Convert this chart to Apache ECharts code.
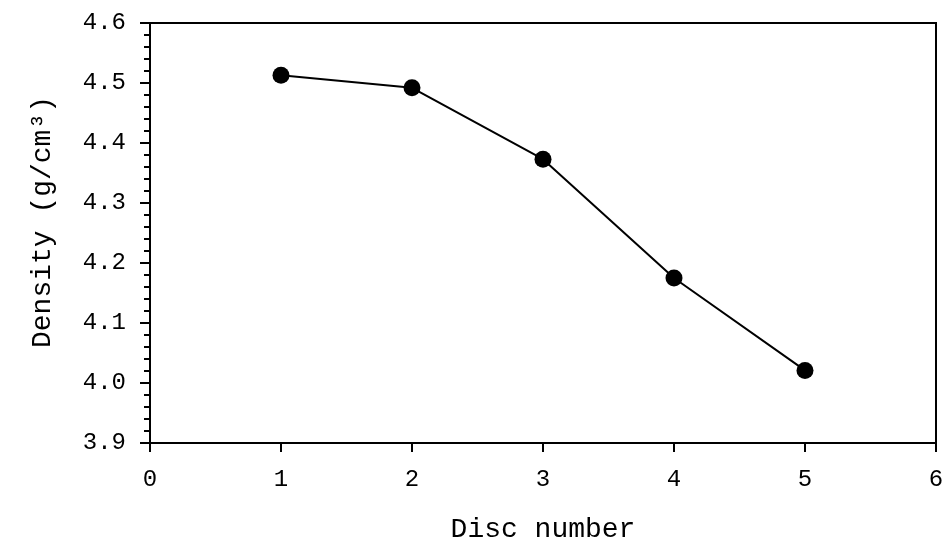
<!DOCTYPE html>
<html>
<head>
<meta charset="utf-8">
<script src="https://cdn.jsdelivr.net/npm/echarts@6/dist/echarts.min.js"></script>
<style>html,body{margin:0;padding:0;background:#fff;}#c{width:942px;height:540px;}</style>
</head>
<body>
<div id="c"></div>
<script>
var discNumbers = [1, 2, 3, 4, 5];
var densities = [4.513, 4.492, 4.373, 4.175, 4.021];
var xTitle = 'Disc number';
var yTitle = 'Density (g/cm\u00B3)';

var font = '"Liberation Mono", "DejaVu Sans Mono", monospace';
var chart = echarts.init(document.getElementById('c'));
chart.setOption({
  backgroundColor: '#fff',
  animation: false,
  grid: { left: 150, right: 6, top: 23, bottom: 97, show: true, borderColor: '#000', borderWidth: 2,
          containLabel: false, outerBoundsMode: 'none' },
  xAxis: {
    type: 'value', min: 0, max: 6, interval: 1,
    name: xTitle, nameLocation: 'middle', nameGap: 73,
    nameTextStyle: { fontFamily: font, fontSize: 28, color: '#000' },
    axisLine: { lineStyle: { color: '#000', width: 2 } },
    axisTick: { show: true, inside: false, length: 9, lineStyle: { color: '#000', width: 2 } },
    axisLabel: { fontFamily: font, fontSize: 24, color: '#000', margin: 25 },
    splitLine: { show: false }
  },
  yAxis: {
    type: 'value', min: 3.9, max: 4.6, interval: 0.1,
    name: yTitle, nameLocation: 'middle', nameGap: 93,
    nameTextStyle: { fontFamily: font, fontSize: 28, color: '#000', padding: [0, 0, 0, 22] },
    axisLine: { lineStyle: { color: '#000', width: 2 } },
    axisTick: { show: true, inside: false, length: 10, lineStyle: { color: '#000', width: 2 } },
    minorTick: { show: true, splitNumber: 5, length: 6, lineStyle: { color: '#000', width: 2 } },
    axisLabel: { fontFamily: font, fontSize: 24, color: '#000', margin: 24,
      formatter: function (v) { return v.toFixed(1); } },
    splitLine: { show: false }
  },
  series: [{
    type: 'line',
    data: discNumbers.map(function (d, i) { return [d, densities[i]]; }),
    symbol: 'circle', symbolSize: 17,
    itemStyle: { color: '#000' },
    lineStyle: { color: '#000', width: 2 }
  }]
});
</script>
</body>
</html>
